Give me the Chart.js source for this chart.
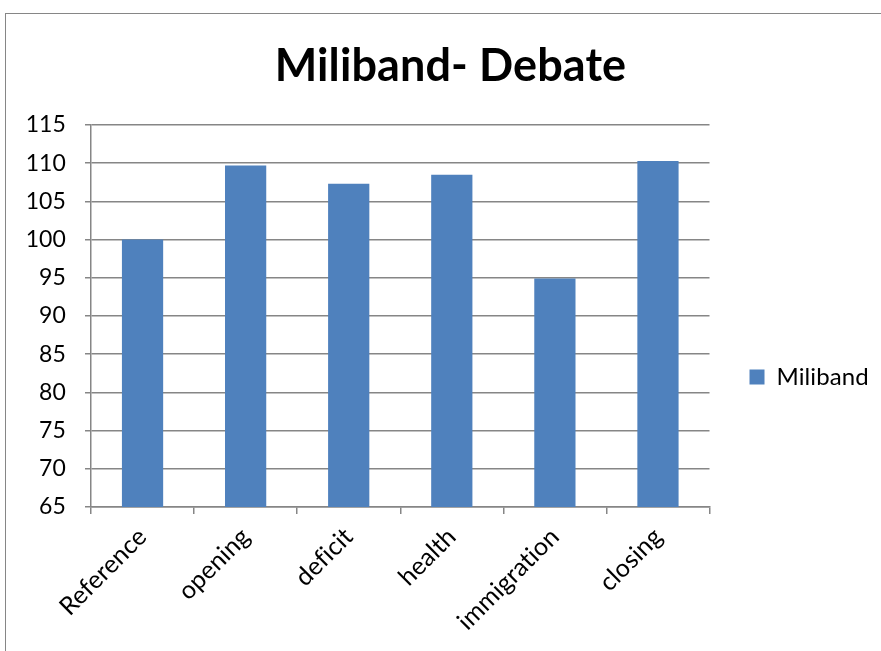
<!DOCTYPE html>
<html>
<head>
<meta charset="utf-8">
<script src="https://cdn.jsdelivr.net/npm/chart.js@4"></script>
<style>
  html, body { margin: 0; padding: 0; background: #fff; overflow: hidden; }
  #moldura {
    position: absolute; left: 5px; top: 13px;
    width: 892px; height: 728px;
    border: 1px solid #868686; box-sizing: border-box;
  }
</style>
</head>
<body>
<div id="moldura"><canvas id="graficoDebate"></canvas></div>
<script>
// Dados do gráfico
const categorias = ['Reference', 'opening', 'deficit', 'health', 'immigration', 'closing'];
const valoresMiliband = [100, 109.7, 107.3, 108.5, 94.9, 110.3];
const eixoY = [65, 115, 5]; // mínimo, máximo, passo

const corGrade = '#868686';
const fonte = 'Lato';

// evita a ligadura "fi" do Lato nos rótulos
const semLigaduras = {
    id: 'semLigaduras',
    beforeDraw: function (chart) { chart.ctx.letterSpacing = '0.1px'; }
};

document.addEventListener('DOMContentLoaded', function () {
    const ctx = document.getElementById('graficoDebate').getContext('2d');

    new Chart(ctx, {
        type: 'bar',
        data: {
            labels: categorias,
            datasets: [{
                label: 'Miliband',
                data: valoresMiliband,
                backgroundColor: '#4F81BD',
                categoryPercentage: 1,
                barPercentage: 0.4
            }]
        },
        plugins: [semLigaduras],
        options: {
            responsive: true,
            maintainAspectRatio: false,
            animation: false,
            layout: { padding: { left: 17, right: 18, top: 0, bottom: 0 } },
            plugins: {
                title: {
                    display: true,
                    text: 'Miliband- Debate',
                    color: '#000',
                    font: { family: fonte, size: 45, weight: 'bold' },
                    padding: { top: 25, bottom: 32 }
                },
                legend: {
                    position: 'right',
                    labels: {
                        color: '#000',
                        font: { family: fonte, size: 24 },
                        boxWidth: 15,
                        boxHeight: 15,
                        padding: 40
                    }
                },
                tooltip: { enabled: false }
            },
            scales: {
                x: {
                    // espaço extra abaixo do eixo para os rótulos inclinados
                    afterFit: function (scale) { scale.height = 233; },
                    grid: {
                        drawOnChartArea: false,
                        drawTicks: true,
                        tickLength: 7,
                        color: corGrade,
                        lineWidth: 1.5
                    },
                    border: { color: corGrade, width: 1.5 },
                    ticks: {
                        color: '#000',
                        font: { family: fonte, size: 25 },
                        minRotation: 45,
                        maxRotation: 45,
                        padding: 8
                    }
                },
                y: {
                    min: eixoY[0],
                    max: eixoY[1],
                    // largura fixa; os rótulos continuam alinhados à direita
                    afterFit: function (scale) { scale.width = 68; },
                    grid: {
                        color: corGrade,
                        lineWidth: 1.5,
                        tickLength: 6
                    },
                    border: { color: corGrade, width: 1.5 },
                    ticks: {
                        stepSize: eixoY[2],
                        color: '#000',
                        font: { family: fonte, size: 23 },
                        padding: 19
                    }
                }
            }
        }
    });
});
</script>
</body>
</html>
